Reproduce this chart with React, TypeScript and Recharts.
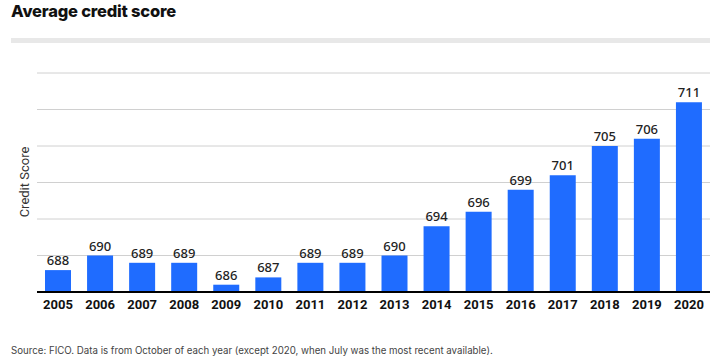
import React from 'react';
import { BarChart, Bar, XAxis, YAxis, CartesianGrid, LabelList } from 'recharts';

const years = ['2005', '2006', '2007', '2008', '2009', '2010', '2011', '2012', '2013', '2014', '2015', '2016', '2017', '2018', '2019', '2020'];
const scores = [688, 690, 689, 689, 686, 687, 689, 689, 690, 694, 696, 699, 701, 705, 706, 711];
const yTicks = [685, 690, 695, 700, 705, 710, 715];

const data = years.map((year, i) => ({ year, score: scores[i] }));

export default function App() {
    return (
        <div style={{ position: 'relative', width: 723, height: 364, background: '#fff', overflow: 'hidden' }}>
            <style>{'body { margin: 0; }'}</style>
            <div
                style={{
                    position: 'absolute',
                    left: 11,
                    top: 1,
                    fontFamily: 'Inter, sans-serif',
                    fontWeight: 800,
                    fontSize: 16.5,
                    color: '#111',
                    letterSpacing: -0.2,
                }}
            >
                Average credit score
            </div>
            <div style={{ position: 'absolute', left: 11, top: 38, width: 699, height: 5, background: '#e8e8e8' }} />
            <div
                style={{
                    position: 'absolute',
                    left: 24,
                    top: 182,
                    transform: 'translate(-50%, -50%) rotate(-90deg)',
                    whiteSpace: 'nowrap',
                    fontFamily: 'Roboto, sans-serif',
                    fontSize: 13,
                    color: '#333',
                }}
            >
                Credit Score
            </div>

            <div style={{ position: 'absolute', left: 0, top: 0 }}>
                <BarChart
                    width={723}
                    height={364}
                    data={data}
                    margin={{ top: 73, right: 13, left: 37, bottom: 42 }}
                    barSize={26}
                >
                    <CartesianGrid vertical={false} stroke="#d0d0d0" strokeWidth={1} />
                    <YAxis hide domain={[685, 715]} ticks={yTicks} allowDataOverflow />
                    <XAxis
                        dataKey="year"
                        height={30}
                        axisLine={{ stroke: '#000', strokeWidth: 2 }}
                        tickLine={false}
                        interval={0}
                        tick={{ fontFamily: 'Roboto, sans-serif', fontWeight: 700, fontSize: 13, fill: '#111' }}
                    />
                    <Bar dataKey="score" fill="#1f6cff" isAnimationActive={false}>
                        <LabelList
                            dataKey="score"
                            position="top"
                            offset={5}
                            style={{ fontFamily: '"Noto Sans", sans-serif', fontWeight: 500, fontSize: 13, fill: '#222' }}
                        />
                    </Bar>
                </BarChart>
            </div>

            <div
                style={{
                    position: 'absolute',
                    left: 11,
                    top: 345,
                    fontFamily: 'Inter, sans-serif',
                    fontSize: 9.7,
                    color: '#444',
                    whiteSpace: 'nowrap',
                }}
            >
                Source: FICO. Data is from October of each year (except 2020, when July was the most recent available).
            </div>
        </div>
    );
}
